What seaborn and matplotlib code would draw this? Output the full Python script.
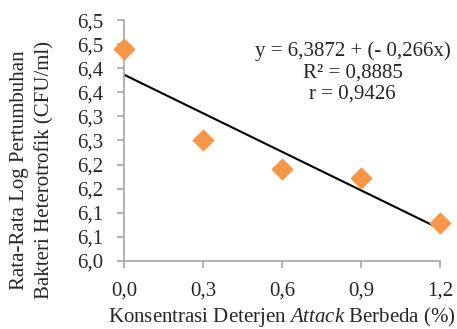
import numpy as np
import pandas as pd
import seaborn as sns
import matplotlib.pyplot as plt

konsentrasi = [0.0, 0.3, 0.6, 0.9, 1.2]
log_bakteri = [6.440, 6.251, 6.191, 6.172, 6.079]

y_ticks = [6.00, 6.05, 6.10, 6.15, 6.20, 6.25, 6.30, 6.35, 6.40, 6.45, 6.50]
y_ticklabels = ['6,0', '6,1', '6,1', '6,2', '6,2', '6,3', '6,3', '6,4', '6,4', '6,5', '6,5']
x_ticks = [0.0, 0.3, 0.6, 0.9, 1.2]
x_ticklabels = ['0,0', '0,3', '0,6', '0,9', '1,2']

df = pd.DataFrame({'x': konsentrasi, 'y': log_bakteri})

sns.set_style('white')
plt.rcParams['font.family'] = ['Liberation Serif', 'DejaVu Serif']
plt.rcParams['mathtext.fontset'] = 'custom'
plt.rcParams['mathtext.rm'] = 'Liberation Serif'
plt.rcParams['mathtext.it'] = 'Liberation Serif:italic'

fs = 15
fig = plt.figure(figsize=(4.57, 3.29), dpi=100)
ax = fig.add_axes([0.271, 0.207, 0.692, 0.732])

sns.regplot(data=df, x='x', y='y', ax=ax, ci=None, marker='D',
            scatter_kws={'color': '#F79646', 's': 130, 'zorder': 3, 'linewidths': 0,
                         'alpha': 1, 'clip_on': False},
            line_kws={'color': 'black', 'lw': 1.5, 'zorder': 2})

ax.set_xlim(0, 1.2)
ax.set_ylim(6.0, 6.5)
ax.set_xticks(x_ticks)
ax.set_xticklabels(x_ticklabels)
ax.set_yticks(y_ticks)
ax.set_yticklabels(y_ticklabels)
ax.tick_params(labelsize=fs, length=5, width=1.2, color='#a6a6a6', direction='out',
               bottom=True, left=True)
ax.tick_params(axis='x', pad=10)
ax.tick_params(axis='y', pad=10)

sns.despine(ax=ax)
for s in ['left', 'bottom']:
    ax.spines[s].set_color('#a6a6a6')
    ax.spines[s].set_linewidth(1.2)

ax.set_xlabel('Konsentrasi Deterjen $\\it{Attack}$ Berbeda (%)', fontsize=fs, labelpad=3)
ax.set_ylabel('')
fig.text(0.071, 0.483, 'Rata-Rata Log Pertumbuhan\nBakteri Heterotrofik (CFU/ml)',
         rotation=90, ha='center', va='center', fontsize=fs, linespacing=1.4)

fig.text(0.772, 0.845, 'y = 6,3872 + (- 0,266x)', ha='center', va='center', fontsize=fs)
fig.text(0.772, 0.779, 'R² = 0,8885', ha='center', va='center', fontsize=fs)
fig.text(0.772, 0.713, 'r = 0,9426', ha='center', va='center', fontsize=fs)

fig.savefig('out.png', dpi=100)
